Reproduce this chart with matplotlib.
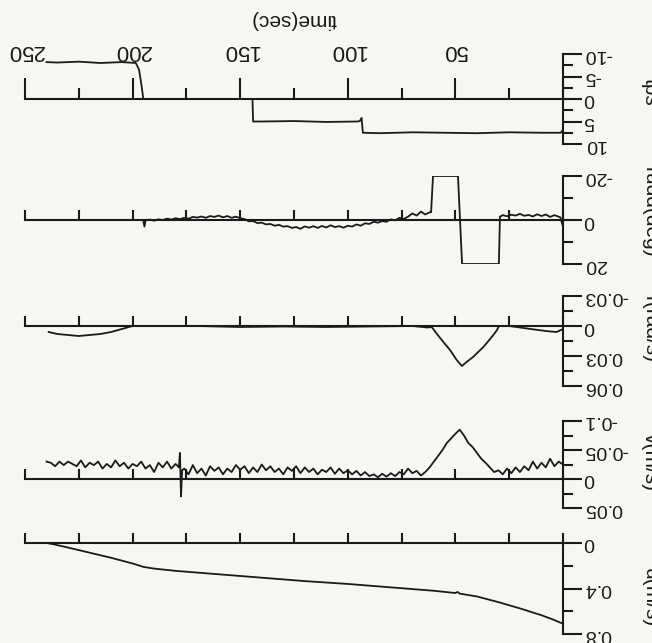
import numpy as np
import matplotlib
matplotlib.use("Agg")
import matplotlib.pyplot as plt

plt.rcParams["font.family"] = ["Liberation Sans", "DejaVu Sans"]

# ---------------- data ----------------
# throttle (tps)
tps_t = [0, 1, 10, 25, 40, 55, 70, 85, 93.0, 93.6, 94.4, 95.5, 110, 125, 140, 144.0,
         144.3, 170, 195.0, 196.0, 197.0, 198.5, 205, 215, 225, 235, 240]
tps_v = [6.8, 7.5, 7.5, 7.4, 7.6, 7.5, 7.4, 7.6, 7.5, 4.2, 4.9, 5.0, 5.1, 4.9, 5.0, 5.0,
         0.0, 0.0, 0.0, -3.5, -6.5, -8.0, -8.2, -8.0, -8.3, -8.1, -8.2]

# rudder angle (deg)
rudd_t = [0, 0.6, 1.2] + list(np.arange(2, 30, 2)) + [29.3, 29.8, 46.9, 48.8, 60.4, 61.3] \
    + list(np.arange(62, 196, 2)) + [194.5, 195.0]
rudd_v = [3.0, 1.0, -1.2,
          -1.5, -2.2, -1.4, -2.5, -1.8, -2.6, -1.6, -2.3, -1.9, -2.8, -2.0, -2.4, -1.7, -2.2,
          -1.5, 20.0, 20.0, -20.0, -20.0, -3.5,
          -3.5, -2.5, -3.8, -2.0, -3.0, -1.5, -0.5, -1.0, 0.2, -0.3, 0.8, 0.5, 1.2, 0.8,
          1.8, 1.5, 2.6, 2.0, 3.0, 2.6, 3.5, 2.8, 3.2, 2.4, 3.4, 2.7, 3.6, 2.8, 3.5, 2.9,
          4.0, 3.2, 3.6, 2.8, 3.0, 2.2, 2.6, 1.8, 2.0, 1.2, 1.4, 0.5, 0.6, -0.4, -0.8,
          -1.5, -1.0, -1.8, -1.2, -2.0, -1.4, -1.8, -1.0, -1.6, -1.1, -1.4, -0.6, -1.0,
          -0.4, -0.8, -0.2, -0.6, 0.0, -0.3, 0.3, -0.2, 0.2,
          3.0, 0.5]

# yaw rate r (rad/s)
r_t = [0, 3, 8, 15, 20, 25, 29.7, 30.8, 33.1, 37.0, 41.8, 44.8, 47.0, 49.4, 52.5,
       55.6, 58.7, 61.0, 63, 70, 90, 110, 130, 150, 170, 190, 200, 205, 210, 215,
       220, 225, 230, 235, 239]
r_v = [0.003, 0.006, 0.005, 0.003, 0.0015, 0.0, 0.0, 0.0045, 0.011, 0.021, 0.031,
       0.036, 0.040, 0.034, 0.024, 0.016, 0.0076, 0.001, 0.0015, 0.0, 0.0005, 0.001,
       0.0005, 0.001, 0.0, 0.0, 0.0, 0.003, 0.006, 0.008, 0.009, 0.010, 0.009, 0.008,
       0.006]

# sway velocity v (m/s)
v_t = list(np.arange(0, 178, 2)) + [177.0, 177.5, 178.0, 178.5] + list(np.arange(180, 242, 2))
v_v = [-25, -30, -22, -35, -20, -28, -18, -30, -15, -22, -12, -20, -10, -18, -8,
       -15, -12, -20, -28, -35, -45, -55, -62, -75, -85, -78, -70, -62, -50, -40,
       -30, -20, -12, -6, -14, -10, -18, -8, -12, -5, -10, -4, -9, -3, -8, -5, -12,
       -6, -14, -8, -15, -10, -18, -9, -20, -12, -16, -8, -18, -12, -20, -10, -22,
       -14, -20, -8, -18, -12, -22, -15, -25, -12, -20, -10, -22, -16, -24, -12,
       -18, -8, -20, -14, -22, -6, -18, -10, -24, -8, -18,
       -15, 30, -45, -20,
       -26, -18, -30, -20, -28, -12, -24, -18, -30, -22, -26, -18, -28, -22, -32,
       -20, -26, -18, -30, -24, -28, -20, -32, -22, -26, -30, -24, -30, -22, -28, -30]
v_v = [x / 1000 for x in v_v]

# surge velocity u (m/s)
u_t = [0, 5, 10, 20, 30, 40, 48, 49, 50, 60, 80, 100, 120, 140, 160, 180, 190,
       195, 200, 210, 220, 230, 237, 240]
u_v = [0.71, 0.67, 0.635, 0.575, 0.52, 0.47, 0.445, 0.43, 0.44, 0.42, 0.39, 0.36,
       0.335, 0.305, 0.275, 0.245, 0.225, 0.21, 0.18, 0.13, 0.085, 0.04, 0.01, 0.0]

panels = [
    ("tps", tps_t, tps_v, (-10, 10), [-10, -5, 0, 5, 10], ["-10", "-5", "0", "5", "10"],
     [-7.5, -2.5, 2.5, 7.5], (54, 144), 92),
    ("rudd(deg)", rudd_t, rudd_v, (-20, 20), [-20, 0, 20], ["-20", "0", "20"],
     [-10, 10], (176, 264), 212),
    ("r(rad/s)", r_t, r_v, (-0.03, 0.06), [-0.03, 0, 0.03, 0.06],
     ["-0.03", "0", "0.03", "0.06"], [-0.015, 0.015, 0.045], (296, 386), 330),
    ("v(m/s)", v_t, v_v, (-0.1, 0.05), [-0.1, -0.05, 0, 0.05],
     ["-0.1", "-0.05", "0", "0.05"], [-0.075, -0.025, 0.025], (421, 508), 462),
    ("u(m/s)", u_t, u_v, (0, 0.8), [0, 0.4, 0.8], ["0", "0.4", "0.8"],
     [0.2, 0.6], (543, 634), 598),
]

W, H = 652, 643
ink = "#1a1a1a"
fig = plt.figure(figsize=(W / 100, H / 100), dpi=100, facecolor="#f6f6f3")
x0, x1 = 25, 563

for i, (name, t, y, lim, ticks, labels, minor, (top, bot), ylab_y) in enumerate(panels):
    ax = fig.add_axes([x0 / W, 1 - bot / H, (x1 - x0) / W, (bot - top) / H])
    ax.set_facecolor("none")
    ax.plot(t, y, color=ink, lw=1.3)
    # page was scanned upside down: time runs right-to-left, values downward
    ax.set_xlim(250, 0)
    ax.set_ylim(lim[1], lim[0])
    for s in ("top", "left"):
        ax.spines[s].set_visible(False)
    ax.spines["bottom"].set_position(("data", 0))
    for s in ("bottom", "right"):
        ax.spines[s].set_linewidth(1.5)
        ax.spines[s].set_color(ink)

    ax.yaxis.tick_right()
    ax.set_yticks(ticks, labels)
    ax.set_yticks(minor, minor=True)
    ax.tick_params(axis="y", which="major", direction="out", length=13.5, width=1.5,
                   labelsize=14, labelrotation=180, pad=1.5, colors=ink)
    ax.tick_params(axis="y", which="minor", direction="out", length=7, width=1.5,
                   colors=ink)
    plt.setp(ax.get_yticklabels(), va="center")

    ax.set_xticks([0, 50, 100, 150, 200, 250], ["", "50", "100", "150", "200", "250"])
    ax.set_xticks([25, 75, 125, 175, 225], minor=True)
    big = 15 if i == 0 else 7.5
    small = 8 if i == 0 else 7.5
    ax.tick_params(axis="x", which="major", direction="in", length=big, width=1.5,
                   colors=ink)
    ax.tick_params(axis="x", which="minor", direction="in", length=small, width=1.5,
                   colors=ink)
    if i == 0:
        ax.tick_params(axis="x", which="major", labelbottom=False, labeltop=True,
                       top=False, labelsize=16, labelrotation=180, pad=-5)
        ax.xaxis.set_label_position("top")
        ax.set_xlabel("time(sec)", rotation=180, fontsize=15, labelpad=11, color=ink)
    else:
        ax.tick_params(axis="x", labelbottom=False)

    # axis names sit at the page edge and are partly cut off in the scan
    fig.text(650 / W, 1 - ylab_y / H, name, rotation=270, fontsize=15,
             ha="center", va="center", color=ink)

fig.savefig("out.png", dpi=100, facecolor=fig.get_facecolor())
